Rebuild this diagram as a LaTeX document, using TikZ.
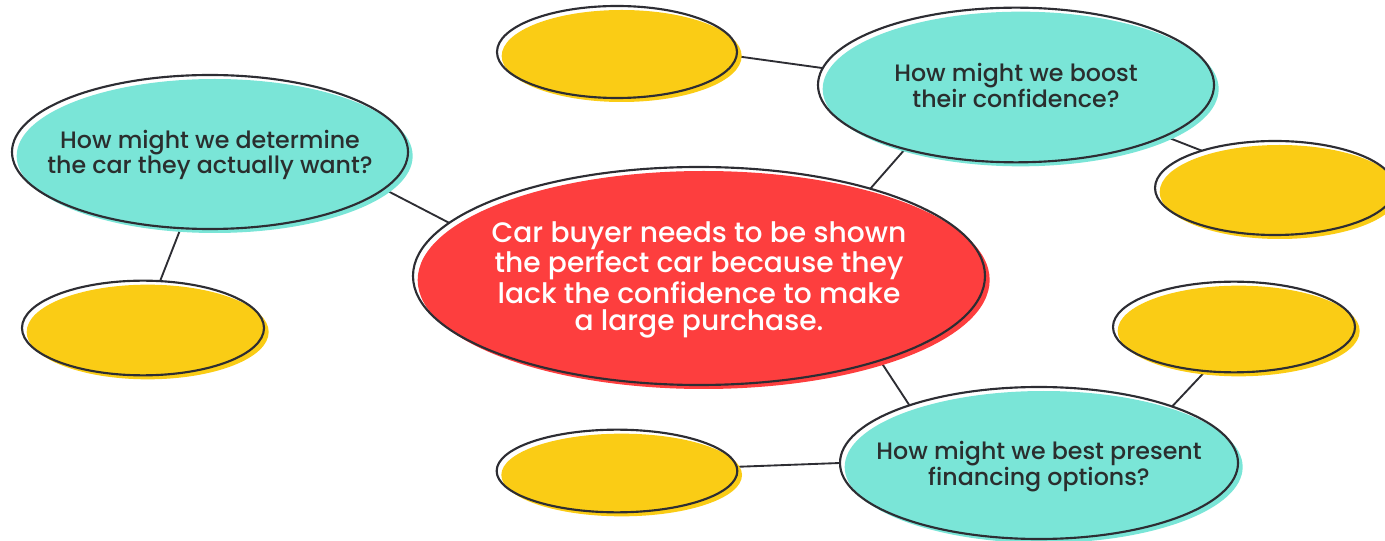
\documentclass[tikz,border=0pt]{standalone}
\usepackage{fontspec}
\setmainfont{Poppins}[UprightFont={* Medium}]
\usepackage{tikz}
\usetikzlibrary{shapes.geometric,shadows,backgrounds}
\definecolor{outline}{RGB}{45,45,51}
\definecolor{textdark}{RGB}{42,46,46}
\definecolor{tealfill}{RGB}{122,229,215}
\definecolor{redfill}{RGB}{253,62,62}
\definecolor{yellowfill}{RGB}{250,204,21}
\tikzset{every picture/.style={line width=0.75pt}}
\tikzset{
  bubble/.style={ellipse, draw=outline, line width=1.6pt, inner sep=0pt, outer sep=0pt,
    drop shadow={shadow xshift=3.5pt, shadow yshift=-3pt, fill=#1, draw=none, opacity=1}},
  question/.style={bubble=tealfill, align=center, text=textdark, inner xsep=-20pt,
    text depth=0pt, font=\fontsize{17.8}{17}\selectfont},
  link/.style={draw=outline, line width=1.4pt}
}

\begin{document}
\begin{tikzpicture}[x=0.75pt,y=0.75pt,yscale=-1,xscale=1]
\useasboundingbox (0,0) rectangle (1385,541);

%Shape: Ellipse (centre)
\node (problem) [bubble=redfill, minimum width=429pt, minimum height=163.5pt, align=center,
  inner xsep=-10pt, text depth=0pt, text=white, font=\fontsize{21.1}{20.2}\selectfont] at (699,276)
  {Car buyer needs to be shown\\the perfect car because they\\lack the confidence to make\\a large purchase.};

%Shape: Ellipse (questions)
\node (want) [question, minimum width=297pt, minimum height=115.5pt] at (210,152)
  {How might we determine\\the car they actually want?};
\node (boost) [question, minimum width=297pt, minimum height=116pt] at (1016,85)
  {How might we boost\\their confidence?};
\node (finance) [question, minimum width=298.5pt, minimum height=114pt] at (1039,463)
  {How might we best present\\financing options?};

%Shape: Ellipse (empty ideas)
\node (ideaA) [bubble=yellowfill, minimum width=180pt, minimum height=69pt] at (617,52) {};
\node (ideaB) [bubble=yellowfill, minimum width=180pt, minimum height=70.5pt] at (1275,188) {};
\node (ideaC) [bubble=yellowfill, minimum width=181.5pt, minimum height=68pt] at (1234,327) {};
\node (ideaD) [bubble=yellowfill, minimum width=181.5pt, minimum height=71pt] at (143,328) {};
\node (ideaE) [bubble=yellowfill, minimum width=180.5pt, minimum height=62pt] at (617,471) {};

%Straight Lines
\begin{scope}[on background layer]
\draw [link] (want.-12) -- (problem.168);
\draw [link] (want.249) -- (ideaD.70);
\draw [link] (problem.27) -- (boost.210);
\draw [link] (ideaA.-2) -- (boost.175);
\draw [link] (boost.-19) -- (ideaB.153);
\draw [link] (problem.-25) -- (finance.156);
\draw [link] (finance.23) -- (ideaC.237);
\draw [link] (ideaE.2) -- (finance.180);
\end{scope}

\end{tikzpicture}
\end{document}
